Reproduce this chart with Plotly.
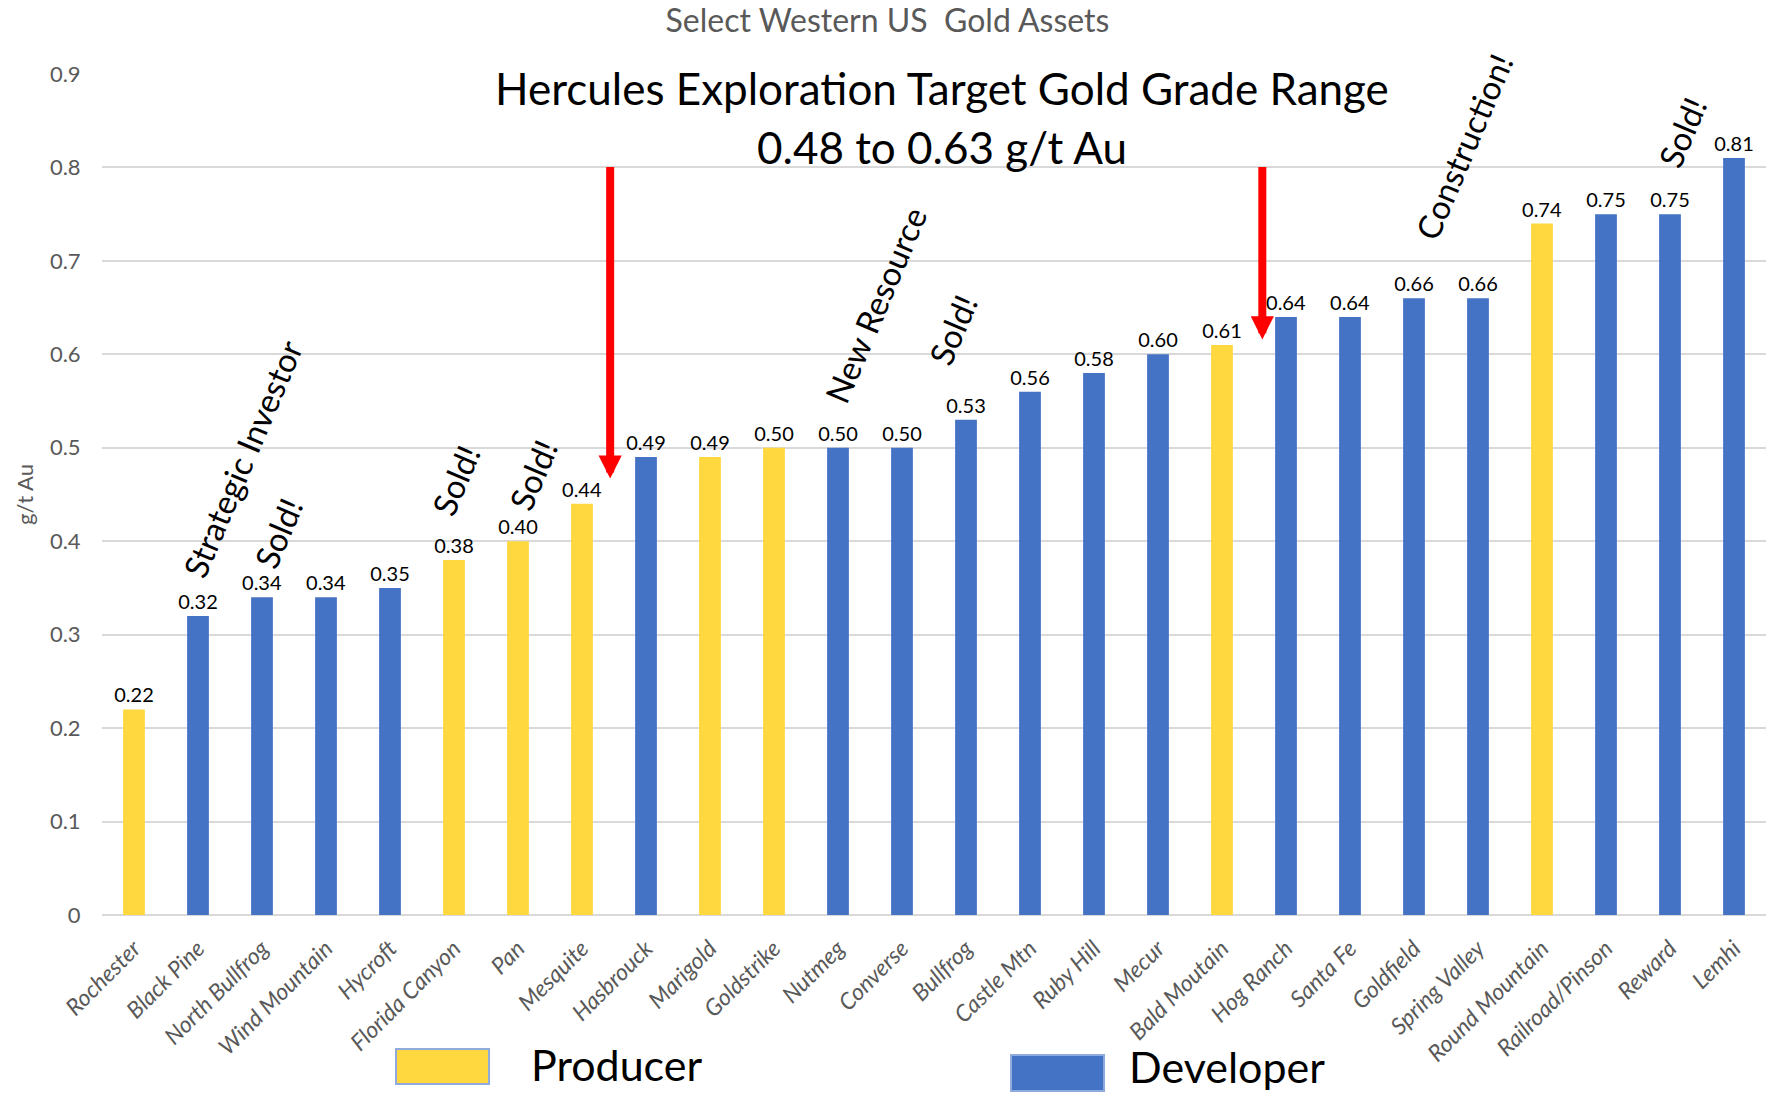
import plotly.graph_objects as go

# ---------------- data ----------------
assets = ["Rochester", "Black Pine", "North Bullfrog", "Wind Mountain", "Hycroft",
          "Florida Canyon", "Pan", "Mesquite", "Hasbrouck", "Marigold", "Goldstrike",
          "Nutmeg", "Converse", "Bullfrog", "Castle Mtn", "Ruby Hill", "Mecur",
          "Bald Moutain", "Hog Ranch", "Santa Fe", "Goldfield", "Spring Valley",
          "Round Mountain", "Railroad/Pinson", "Reward", "Lemhi"]
grades = [0.22, 0.32, 0.34, 0.34, 0.35, 0.38, 0.40, 0.44, 0.49, 0.49, 0.50,
          0.50, 0.50, 0.53, 0.56, 0.58, 0.60, 0.61, 0.64, 0.64, 0.66, 0.66,
          0.74, 0.75, 0.75, 0.81]
status = ["Producer", "Developer", "Developer", "Developer", "Developer",
          "Producer", "Producer", "Producer", "Developer", "Producer", "Producer",
          "Developer", "Developer", "Developer", "Developer", "Developer", "Developer",
          "Producer", "Developer", "Developer", "Developer", "Developer",
          "Producer", "Developer", "Developer", "Developer"]
y_ticks = [0, 0.1, 0.2, 0.3, 0.4, 0.5, 0.6, 0.7, 0.8, 0.9]

# callouts: (text, category position, grade level)
callouts = [("Strategic Investor", 1.69, 0.488),
            ("Sold!", 2.25, 0.409),
            ("Sold!", 5.02, 0.466),
            ("Sold!", 6.23, 0.471),
            ("New Resource", 11.58, 0.653),
            ("Sold!", 12.79, 0.626),
            ("Construction!", 20.77, 0.822),
            ("Sold!", 24.19, 0.838)]
target_low, target_high = 0.48, 0.63
# arrows: (category position, tip level, tail level)
arrows = [(7.44, 0.467, 0.802), (17.63, 0.616, 0.802)]

COLORS = {"Producer": "#FFD73F", "Developer": "#4472C4"}
FONT = "Lato, 'Open Sans', sans-serif"
GRAY = "#595959"

W, H = 1775, 1094

fig = go.Figure()
fig.add_trace(go.Bar(
    x=assets, y=grades,
    marker=dict(color=[COLORS[s] for s in status], line=dict(width=0)),
    text=[f"{g:.2f}" for g in grades], textposition="outside",
    constraintext="none",
    textfont=dict(family=FONT, size=20, color="#000000"),
    cliponaxis=False, showlegend=False,
))

annotations = []
for txt, xp, yp in callouts:
    annotations.append(dict(text=txt, x=xp, y=yp, xref="x", yref="y",
                            showarrow=False, textangle=-67,
                            font=dict(family=FONT, size=33, color="#000000"),
                            xanchor="center", yanchor="middle"))
for xp, tip, tail in arrows:
    annotations.append(dict(text="", x=xp, y=tip, ax=xp, ay=tail,
                            xref="x", yref="y", axref="x", ayref="y",
                            showarrow=True, arrowhead=2, arrowwidth=8,
                            arrowsize=0.58, arrowcolor="#FF0000"))
annotations.append(dict(text="Hercules Exploration Target Gold Grade Range",
                        x=12.62, y=0.885, xref="x", yref="y", showarrow=False,
                        font=dict(family=FONT, size=44, color="#000000"),
                        xanchor="center", yanchor="middle"))
annotations.append(dict(text=f"{target_low:.2f} to {target_high:.2f} g/t Au",
                        x=12.62, y=0.822, xref="x", yref="y", showarrow=False,
                        font=dict(family=FONT, size=44, color="#000000"),
                        xanchor="center", yanchor="middle"))
# custom legend
legend_items = [("Producer", 0.1767, 0.2326, -0.1593, -0.2010, 0.2566, -0.1772),
                ("Developer", 0.5463, 0.6022, -0.1665, -0.2093, 0.6160, -0.1800)]
shapes = []
for name, x0, x1, y0, y1, tx, ty in legend_items:
    shapes.append(dict(type="rect", xref="paper", yref="paper",
                       x0=x0, x1=x1, y0=y0, y1=y1,
                       fillcolor=COLORS[name], line=dict(color="#8FAADC", width=2)))
    annotations.append(dict(text=name, x=tx, y=ty, xref="paper", yref="paper",
                            showarrow=False, xanchor="left", yanchor="middle",
                            font=dict(family=FONT, size=43, color="#000000")))

fig.update_layout(
    width=W, height=H,
    margin=dict(l=102, r=9, t=74, b=179),
    paper_bgcolor="white", plot_bgcolor="white",
    title=dict(text="Select Western US  Gold Assets", x=0.5, xref="container",
               xanchor="center", y=1 - 21 / H, yref="container", yanchor="middle",
               font=dict(family=FONT, size=32, color=GRAY)),
    bargap=0.66,
    annotations=annotations, shapes=shapes,
    font=dict(family=FONT),
)
fig.update_yaxes(range=[0, 0.9], tickvals=y_ticks,
                 showgrid=True, gridcolor="#D9D9D9", gridwidth=2,
                 zeroline=True, zerolinecolor="#D9D9D9", zerolinewidth=2,
                 tickfont=dict(family=FONT, size=22, color=GRAY),
                 ticks="outside", ticklen=16, tickcolor="rgba(0,0,0,0)",
                 title=dict(text="g/t Au", font=dict(family=FONT, size=22, color=GRAY),
                            standoff=10))
fig.update_xaxes(tickangle=-45, categoryorder="array", categoryarray=assets,
                 tickfont=dict(family=FONT, size=23, color=GRAY, style="italic"),
                 ticks="outside", ticklen=10, tickcolor="rgba(0,0,0,0)",
                 showline=False)

fig.write_html("out.html", config={"displayModeBar": False},
               post_script="document.body.style.margin='0';document.body.style.overflow='hidden';")
